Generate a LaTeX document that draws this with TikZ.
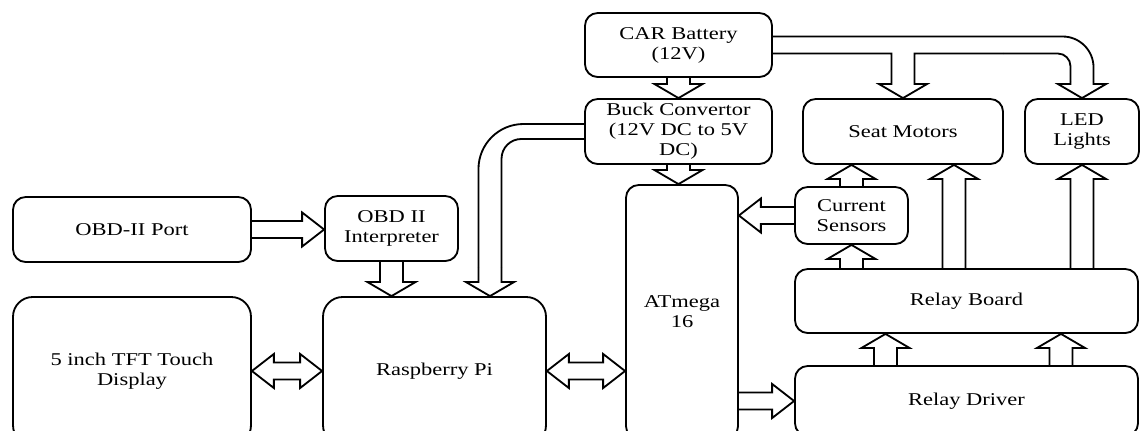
\documentclass[tikz,border=0pt]{standalone}
\usepackage{fontspec}
\setmainfont{Liberation Serif}[FakeStretch=1.25]
\usetikzlibrary{calc}

% block arrow sizes: vertical (v..) and horizontal (h..)
\newcommand{\vab}{8.2pt}
\newcommand{\vah}{17.1pt}
\newcommand{\val}{10pt}
\newcommand{\hab}{6pt}
\newcommand{\hah}{12.1pt}
\newcommand{\hal}{15.6pt}

\newcommand{\vfat}[2]{%
  \draw[blk] let \p1=(#1), \p2=(#2), \n1={(\y2-\y1)/abs(\y2-\y1)} in
    ({\x1-\vab},\y1) -- ({\x1-\vab},{\y2-(\n1)*\val}) -- ({\x1-\vah},{\y2-(\n1)*\val})
    -- (\x1,\y2) -- ({\x1+\vah},{\y2-(\n1)*\val}) -- ({\x1+\vab},{\y2-(\n1)*\val})
    -- ({\x1+\vab},\y1);}
\newcommand{\hfat}[2]{%
  \draw[blk] let \p1=(#1), \p2=(#2), \n1={(\x2-\x1)/abs(\x2-\x1)} in
    (\x1,{\y1+\hab}) -- ({\x2-(\n1)*\hal},{\y1+\hab}) -- ({\x2-(\n1)*\hal},{\y1+\hah})
    -- (\x2,\y1) -- ({\x2-(\n1)*\hal},{\y1-\hah}) -- ({\x2-(\n1)*\hal},{\y1-\hab})
    -- (\x1,{\y1-\hab});}
\newcommand{\hdfat}[2]{%
  \draw[blk] let \p1=(#1), \p2=(#2) in
    (\x1,\y1) -- ({\x1+\hal},{\y1+\hah}) -- ({\x1+\hal},{\y1+\hab}) -- ({\x2-\hal},{\y1+\hab})
    -- ({\x2-\hal},{\y1+\hah}) -- (\x2,\y1) -- ({\x2-\hal},{\y1-\hah}) -- ({\x2-\hal},{\y1-\hab})
    -- ({\x1+\hal},{\y1-\hab}) -- ({\x1+\hal},{\y1-\hah}) -- cycle;}

\begin{document}
\begin{tikzpicture}[x=0.025cm, y=-0.025cm,
  box/.style={draw, line width=1.3pt, rounded corners=9pt, align=center,
    inner sep=0pt, font=\fontsize{12.8}{14.2}\selectfont},
  sz/.style 2 args={minimum width=#1*0.025cm, minimum height=#2*0.025cm},
  blk/.style={line width=1.3pt, line join=miter}]
  \useasboundingbox (0,0) rectangle (1140,430);
  \clip (0,0) rectangle (1140,430);

  \node[box, sz={187}{64}] (car) at (678.5,45) {CAR Battery\\(12V)};
  \node[box, sz={187}{65}] (buck) at (678.5,131.5) {Buck Convertor\\(12V DC to 5V\\DC)};
  \node[box, sz={200}{65}] (seat) at (903,131.5) {Seat Motors};
  \node[box, sz={114}{65}] (led) at (1082,131.5) {LED\\Lights};
  \node[box, sz={238}{65}] (obd) at (132,229.5) {OBD-II Port};
  \node[box, sz={133}{65}] (interp) at (391.5,228.5) {OBD II\\Interpreter};
  \node[box, sz={113}{57}] (cs) at (851.5,215.5) {Current\\Sensors};
  \node[box, sz={112}{254}] (atmega) at (682,312) {ATmega\\16};
  \node[box, sz={238}{148}, rounded corners=14pt] (tft) at (132,371) {5 inch TFT Touch\\Display};
  \node[box, sz={223}{148}, rounded corners=14pt] (rpi) at (434.5,371) {Raspberry Pi};
  \node[box, sz={343}{64}] (rb) at (966.5,301) {Relay Board};
  \node[box, sz={343}{70}] (rd) at (966.5,401) {Relay Driver};

  \coordinate (t1) at (954,0);
  \coordinate (t2) at (885.5,0);
  \coordinate (t3) at (1061,0);

  % power
  \vfat{car.south}{buck.north}
  \vfat{buck.south}{buck.south |- atmega.north}

  \coordinate (bo) at ($(car.east)+(0,-8.5)$);
  \coordinate (bi) at ($(car.east)+(0,8.5)$);
  \coordinate (sl) at ([xshift=-\vab]seat.north);
  \coordinate (sr) at ([xshift=\vab]seat.north);
  \coordinate (ll) at ([xshift=-\vab,yshift=12pt]led.north);
  \coordinate (lr) at ([xshift=\vab,yshift=12pt]led.north);
  \draw[blk] (bi) -- (sl |- bi) -- ([yshift=\val]sl) -- ([xshift=-\vah,yshift=\val]seat.north)
    -- (seat.north) -- ([xshift=\vah,yshift=\val]seat.north) -- ([yshift=\val]sr) -- (sr |- bi)
    -- (seat.north east |- bi);
  \draw[blk, rounded corners=9pt] (seat.north east |- bi) -| (ll);
  \draw[blk] (ll) -- ([xshift=-\vab,yshift=\val]led.north) -- ([xshift=-\vah,yshift=\val]led.north)
    -- (led.north) -- ([xshift=\vah,yshift=\val]led.north) -- ([xshift=\vab,yshift=\val]led.north)
    -- (lr);
  \draw[blk, rounded corners=22pt] (lr) |- (bo);

  \coordinate (pin) at ($(rpi.north)+(55.5,0)$);
  \coordinate (pl) at ([xshift=-\vab,yshift=20pt]pin);
  \coordinate (pr) at ([xshift=\vab,yshift=20pt]pin);
  \coordinate (ko) at ($(buck.west)+(0,-7.5)$);
  \coordinate (ki) at ($(buck.west)+(0,7.5)$);
  \draw[blk, rounded corners=32pt] (ko) -| (pl);
  \draw[blk] (pl) -- ([xshift=-\vab,yshift=\val]pin) -- ([xshift=-\vah,yshift=\val]pin) -- (pin)
    -- ([xshift=\vah,yshift=\val]pin) -- ([xshift=\vab,yshift=\val]pin) -- (pr);
  \draw[blk, rounded corners=14pt] (ki) -| (pr);

  % data
  \hfat{obd.east}{obd.east -| interp.west}
  \vfat{interp.south}{interp.south |- rpi.north}
  \hdfat{tft.east}{rpi.west}
  \hdfat{rpi.east}{rpi.east -| atmega.west}
  \hfat{cs.west}{cs.west -| atmega.east}
  \hfat{atmega.east |- rd.west}{rd.west}

  % relays and loads
  \vfat{cs.north}{cs.north |- seat.south}
  \vfat{cs.south |- rb.north}{cs.south}
  \vfat{t1 |- rb.north}{t1 |- seat.south}
  \vfat{led.south |- rb.north}{led.south}
  \vfat{t2 |- rd.north}{t2 |- rb.south}
  \vfat{t3 |- rd.north}{t3 |- rb.south}
\end{tikzpicture}
\end{document}
